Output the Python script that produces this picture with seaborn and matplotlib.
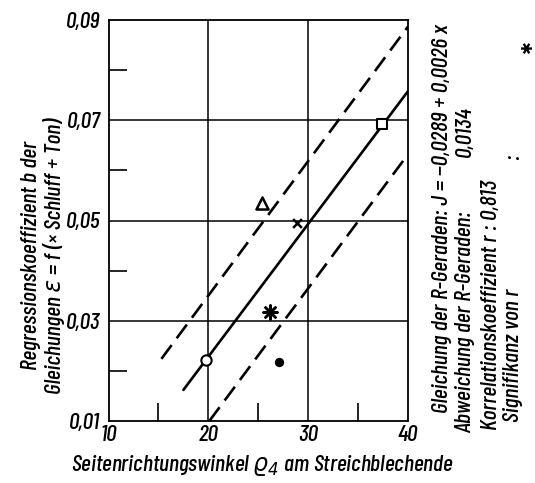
import matplotlib
matplotlib.use("Agg")
import matplotlib.pyplot as plt
import seaborn as sns
import pandas as pd
from matplotlib.ticker import FixedLocator

# ---- data ----
x_ticks = [10, 20, 30, 40]
x_ticklabels = ["10", "20", "30", "40"]
y_ticks = [0.01, 0.03, 0.05, 0.07, 0.09]
y_ticklabels = ["0,01", "0,03", "0,05", "0,07", "0,09"]
x_minor = [15, 25, 35]
y_minor = [0.02, 0.04, 0.06, 0.08]

# observed points (Seitenrichtungswinkel, Regressionskoeffizient)
pt_x = [19.8, 25.4, 28.9, 26.2, 27.1, 37.4]
pt_y = [0.0221, 0.0535, 0.0496, 0.0317, 0.0217, 0.0692]
pt_kind = ["circle", "triangle", "cross", "star", "dot", "square"]

# regression line and its deviation band
reg_x = [17.5, 40.0]
reg_y = [0.0162, 0.0758]
upper_x = [15.3, 40.0]
upper_y = [0.0224, 0.0887]
lower_x = [20.1, 40.0]
lower_y = [0.0100, 0.0632]

sns.set_style("white")
FONT = ["Barlow Condensed", "DejaVu Sans"]
plt.rcParams["font.family"] = FONT
plt.rcParams["font.style"] = "italic"
plt.rcParams["font.weight"] = 500
plt.rcParams["text.color"] = "black"
plt.rcParams["xtick.color"] = "black"
plt.rcParams["ytick.color"] = "black"
plt.rcParams["mathtext.fontset"] = "dejavusans"

fig = plt.figure(figsize=(5.35, 4.83), dpi=100)
ax = fig.add_axes([108.5 / 535, 62 / 483, 299.5 / 535, 401 / 483])

# grid lines at the labelled positions
for gx in [20, 30]:
    ax.axvline(gx, color="black", lw=1.1, zorder=1)
for gy in [0.03, 0.05, 0.07]:
    ax.axhline(gy, color="black", lw=1.1, zorder=1)

# regression line and band
sns.lineplot(x=reg_x, y=reg_y, ax=ax, color="black", lw=1.9, zorder=3)
sns.lineplot(x=upper_x, y=upper_y, ax=ax, color="black", lw=1.9,
             linestyle=(0, (6.5, 3.2)), zorder=3)
sns.lineplot(x=lower_x, y=lower_y, ax=ax, color="black", lw=1.9,
             linestyle=(0, (6.5, 3.2)), zorder=3)

df = pd.DataFrame({"x": pt_x, "y": pt_y, "kind": pt_kind})
styles = {
    "circle": dict(marker="o", s=55, facecolor="white", edgecolor="black", linewidth=1.5),
    "triangle": dict(marker="^", s=75, facecolor="white", edgecolor="black", linewidth=1.8),
    "cross": dict(marker="x", s=40, color="black", linewidth=1.8),
    "star": dict(marker=(8, 2, 0), s=100, color="black", linewidth=1.8),
    "dot": dict(marker="o", s=45, color="black", linewidth=0),
    "square": dict(marker="s", s=45, facecolor="white", edgecolor="black", linewidth=1.5),
}
for k, st in styles.items():
    sub = df[df["kind"] == k]
    sns.scatterplot(data=sub, x="x", y="y", ax=ax, zorder=5, legend=False, **st)

ax.set_xlim(10, 40)
ax.set_ylim(0.01, 0.09)
ax.set_xticks(x_ticks)
ax.set_xticklabels(x_ticklabels)
ax.set_yticks(y_ticks)
ax.set_yticklabels(y_ticklabels)
ax.xaxis.set_minor_locator(FixedLocator(x_minor))
ax.yaxis.set_minor_locator(FixedLocator(y_minor))
ax.tick_params(which="major", length=0, labelsize=17)
ax.tick_params(axis="x", which="major", pad=3)
ax.tick_params(axis="y", which="major", pad=6)
ax.tick_params(which="minor", direction="in", length=13, width=1.2,
               color="black", left=True, bottom=True)
for lab in ax.get_xticklabels() + ax.get_yticklabels():
    lab.set_fontstyle("italic")
    lab.set_fontweight(500)
ax.set_xlabel("")
ax.set_ylabel("")
for sp in ax.spines.values():
    sp.set_color("black")
    sp.set_linewidth(1.3)
    sp.set_visible(True)

# axis labels
fig.text(262 / 535, 1 - 465 / 483, "Seitenrichtungswinkel $\\varrho_4$ am Streichblechende",
         ha="center", va="center", fontsize=17)
fig.text(31 / 535, 1 - 255 / 483, "Regressionskoeffizient b der",
         rotation=90, ha="center", va="center", fontsize=17)
fig.text(54 / 535, 1 - 256 / 483, "Gleichungen ε = f (× Schluff + Ton)",
         rotation=90, ha="center", va="center", fontsize=17)

# right-side annotation (rotated)
def rtext(xp, yp, s, **kw):
    fig.text(xp / 535, 1 - yp / 483, s, rotation=90, rotation_mode="anchor",
             ha="left", va="center", fontsize=17, **kw)

rtext(442, 413, "Gleichung der R-Geraden: J = −0,0289 + 0,0026 x")
rtext(465, 433, "Abweichung der R-Geraden:")
rtext(465, 157, "0,0134")
rtext(491, 430, "Korrelationskoeffizient r : 0,813")
rtext(513, 422, "Signifikanz von r")
rtext(513, 160, ":")
fig.text(527 / 535, 1 - 47 / 483, "✱", rotation=90, ha="center", va="center",
         fontsize=11, family="DejaVu Sans")

fig.savefig("out.png", dpi=100)
